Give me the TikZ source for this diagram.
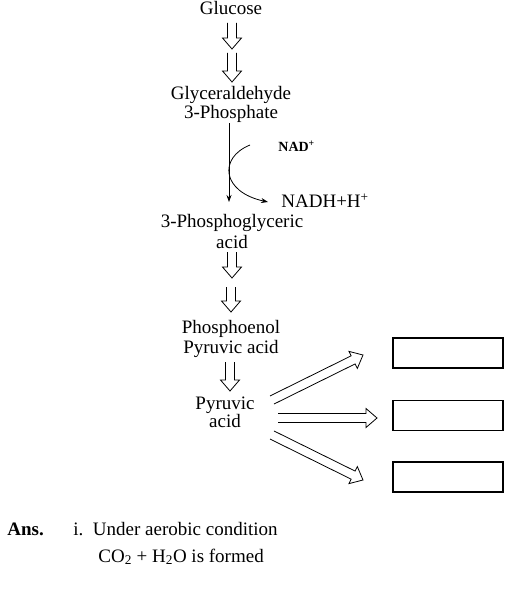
\documentclass[tikz,border=0pt]{standalone}
\usepackage{fontspec}
\setmainfont{Liberation Serif}
\usetikzlibrary{calc}
\usetikzlibrary{arrows.meta}

\begin{document}
\begin{tikzpicture}[x=1pt,y=-1pt,line width=0.8pt,
  txt/.style={font=\fontsize{19}{19}\selectfont,align=center,inner sep=0pt},
  box/.style={rectangle,draw,line width=1.2pt,minimum width=110pt,minimum height=30pt},
  hollow/.style={to path={let \p1=(\tikztostart),\p2=(\tikztotarget),
    \n1={atan2(\y2-\y1,\x2-\x1)},\n2={veclen(\x2-\x1,\y2-\y1)} in
    {[shift={(\p1)},rotate=\n1] (0pt,4.5pt) -- ({\n2*1pt-11pt},4.5pt) -- ({\n2*1pt-11pt},9.5pt)
     -- ({\n2*1pt},0pt) -- ({\n2*1pt-11pt},-9.5pt) -- ({\n2*1pt-11pt},-4.5pt) -- (0pt,-4.5pt)}}}]
\useasboundingbox (0,0) rectangle (528,609);

\node [txt] (glucose) at (231,8.5) {Glucose};
\node [txt] (g3p) at (231,104.5) {Glyceraldehyde\\3-Phosphate};
\node [txt] (pga) at (232,232) {3-Phosphoglyceric\\[2pt]acid};
\node [txt] (pep) at (231,338.5) {Phosphoenol\\[1pt]Pyruvic acid};
\node [txt] (pyr) at (225,412.5) {Pyruvic\\[-1pt]acid};
\node [txt,font=\fontsize{14}{16}\selectfont\bfseries,anchor=base west] (nad) at (278,152) {NAD\textsuperscript{+}};
\node [txt,anchor=base west] (nadh) at (281,208) {NADH+H\textsuperscript{+}};

\node [box] (box1) at (448,353) {};
\node [box] (box2) at (448,415.5) {};
\node [box] (box3) at (448,477) {};

\coordinate (a1) at (232,23);
\coordinate (b1) at (232,49);
\coordinate (a2) at (232,53);
\coordinate (b2) at (232,82);
\coordinate (a3) at (232,252);
\coordinate (b3) at (232,278);
\coordinate (a4) at (231,287);
\coordinate (b4) at (231,312);
\coordinate (a5) at (230,362);
\coordinate (b5) at (230,391);
\coordinate (d1) at (272,400);
\coordinate (e1) at (363,355);
\coordinate (d2) at (278,418);
\coordinate (e2) at (377,418);
\coordinate (d3) at (272,435);
\coordinate (e3) at (363,480);
\coordinate (nadin) at (250,145);

\draw [hollow] (a1) to (b1);
\draw [hollow] (a2) to (b2);
\draw [hollow] (a3) to (b3);
\draw [hollow] (a4) to (b4);
\draw [hollow] (a5) to (b5);
\draw [hollow] (d1) to (e1);
\draw [hollow] (d2) to (e2);
\draw [hollow] (d3) to (e3);

\draw [-{Stealth[length=7pt,width=5pt]}] (g3p.south -| 229,0) -- (229,202);
\draw [-{Stealth[length=7pt,width=5pt]}] (nadin) .. controls (218,158) and (222,192) .. (268,202);

\node [txt,font=\fontsize{19}{19}\selectfont\bfseries,anchor=base west] (ans) at (7,535) {Ans.};
\node [txt,anchor=base west] (ans1) at (73,535) {i.\ \ Under aerobic condition};
\node [txt,anchor=base west] (ans2) at (98,562) {CO\textsubscript{2} + H\textsubscript{2}O is formed};
\end{tikzpicture}
\end{document}
